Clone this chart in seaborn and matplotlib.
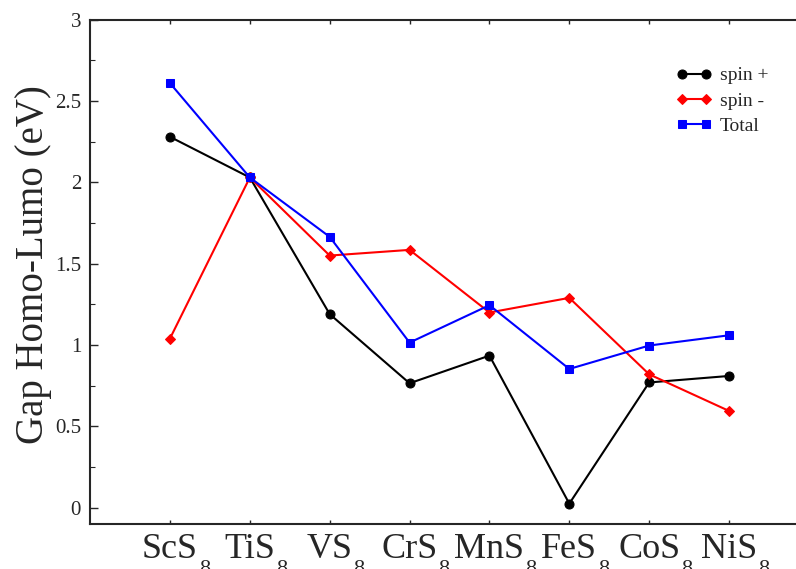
import pandas as pd
import matplotlib.pyplot as plt
import seaborn as sns
from matplotlib.ticker import MultipleLocator

compounds = ["ScS", "TiS", "VS", "CrS", "MnS", "FeS", "CoS", "NiS"]
spin_up = [2.28, 2.03, 1.19, 0.765, 0.935, 0.025, 0.77, 0.81]
spin_down = [1.04, 2.03, 1.55, 1.585, 1.2, 1.29, 0.82, 0.595]
total = [2.61, 2.03, 1.665, 1.015, 1.245, 0.853, 0.997, 1.06]

df = pd.DataFrame({
    "pos": range(1, len(compounds) + 1),
    "spin +": spin_up,
    "spin -": spin_down,
    "Total": total,
})

sns.set_style("ticks")
plt.rcParams["font.family"] = ["Liberation Serif", "DejaVu Serif"]

fig = plt.figure(figsize=(7.96, 5.69), dpi=100)
ax = fig.add_axes([0.1132, 0.0791, 0.903, 0.8863])

styles = [("spin +", "black", "o", 6.5),
          ("spin -", "red", "D", 5.2),
          ("Total", "blue", "s", 6.2)]
for name, color, marker, ms in styles:
    sns.lineplot(data=df, x="pos", y=name, ax=ax, color=color, marker=marker,
                 markersize=ms, markeredgecolor=color, linewidth=1.5, label=name)

ax.set_xlim(0, 9)
ax.set_ylim(-0.1, 3)
ax.set_xticks(df["pos"])
ax.set_xticklabels(compounds, fontsize=26)
ax.set_yticks([0, 0.5, 1, 1.5, 2, 2.5, 3])
ax.set_yticklabels(["0", "0.5", "1", "1.5", "2", "2.5", "3"], fontsize=15)
ax.yaxis.set_minor_locator(MultipleLocator(0.25))
ax.tick_params(axis="x", which="major", direction="in", length=3, width=1,
               top=True, pad=6.5)
ax.tick_params(axis="y", which="major", direction="in", length=6, width=1,
               right=True, pad=6.5)
ax.tick_params(axis="y", which="minor", direction="in", length=3.5, width=0.8,
               right=True)
for side in ax.spines.values():
    side.set_linewidth(1.5)
ax.set_xlabel("")
ax.set_ylabel("Gap Homo-Lumo (eV)", fontsize=28)
ax.yaxis.set_label_coords(-0.053, 0.514)

# subscript 8 hung below each formula label
for lab in ax.get_xticklabels():
    ax.annotate("8", xy=(1, 0), xycoords=lab, xytext=(0.5, 4),
                textcoords="offset points", ha="left", va="top", fontsize=16,
                annotation_clip=False)

ax.legend(loc="upper left", bbox_to_anchor=(0.804, 0.922), borderaxespad=0,
          frameon=False, fontsize=14, handlelength=1.85, handletextpad=0.4,
          labelspacing=0.4, numpoints=2)

fig.savefig("out.png", dpi=100)
